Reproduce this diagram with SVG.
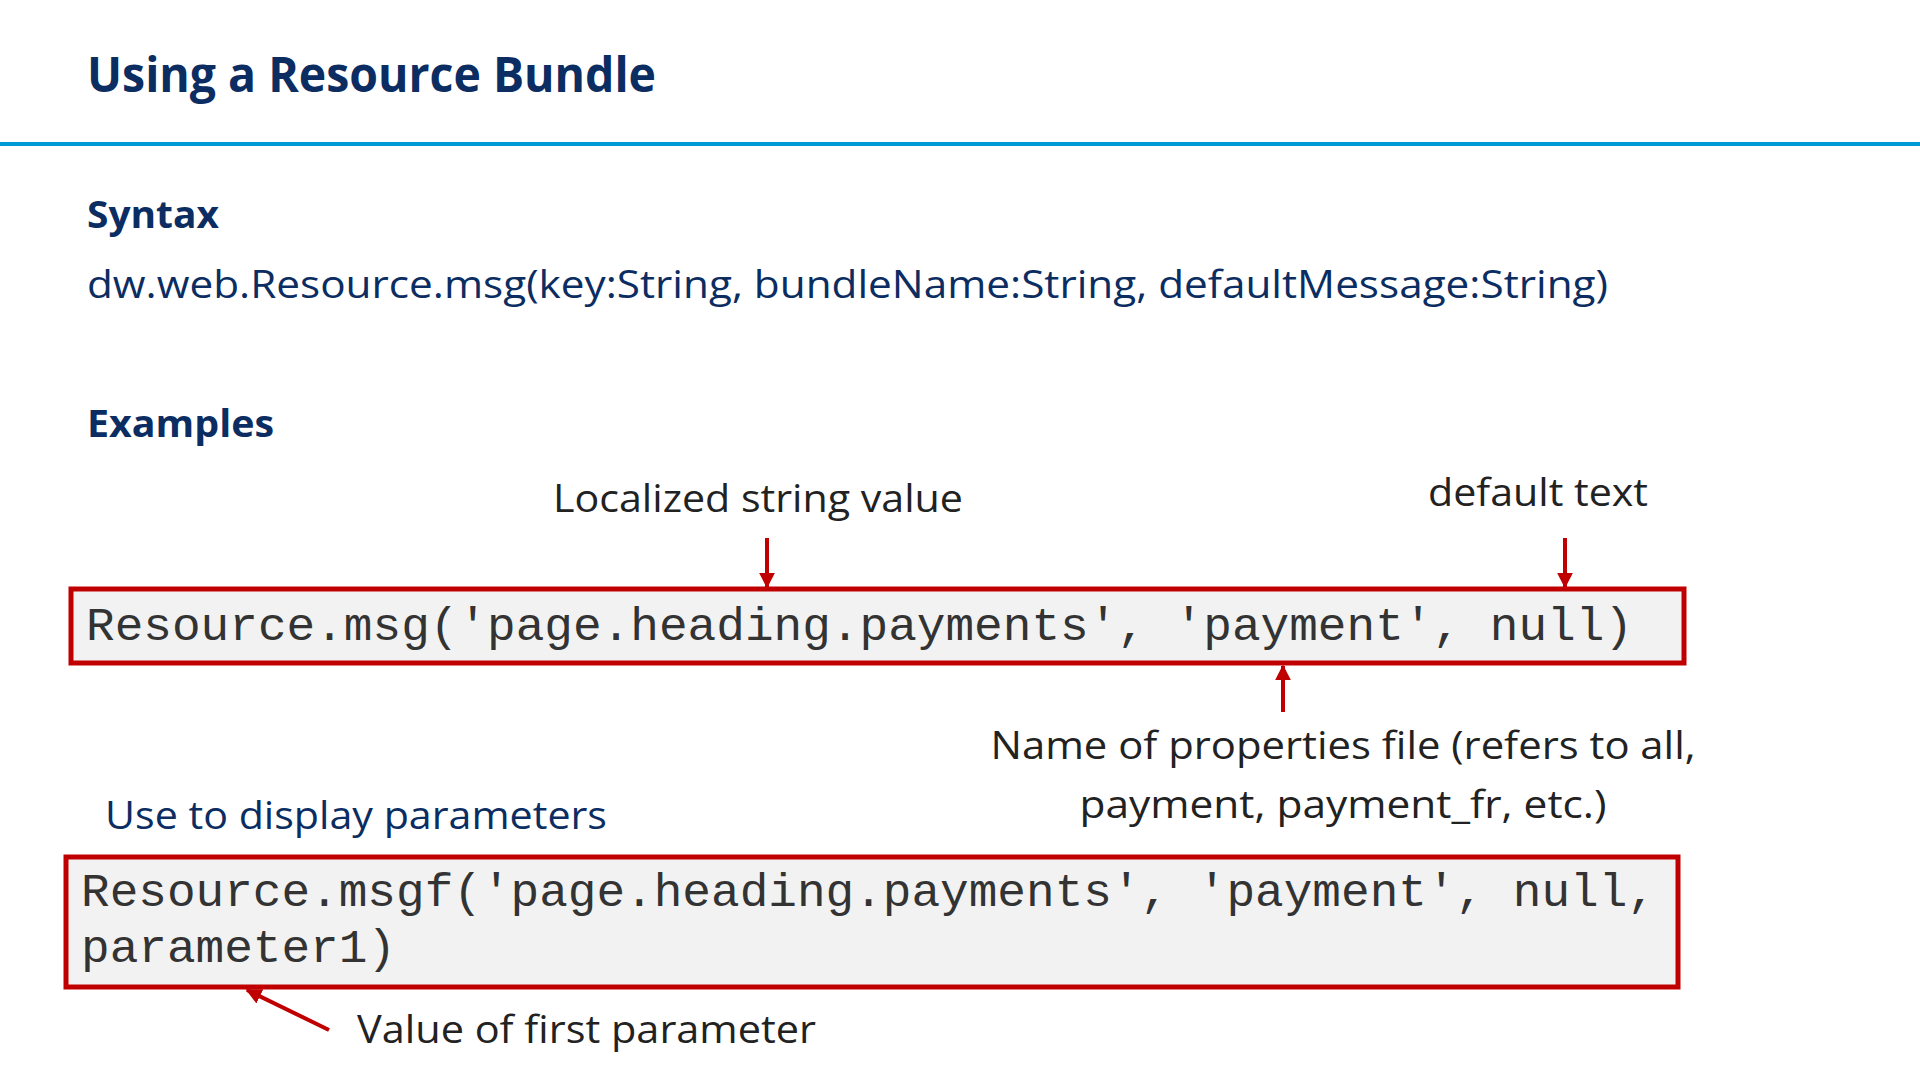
<svg xmlns="http://www.w3.org/2000/svg" width="1920" height="1080" viewBox="0 0 1920 1080">
<defs>
<style>
.t{font-family:"Open Sans","Liberation Sans",sans-serif;}
.h{font-weight:bold;fill:#0b2d62;}
.b{fill:#0b2d62;}
.k{fill:#222;}
.c{font-family:"Liberation Mono","Courier New",monospace;font-size:47px;fill:#333;}
.box{fill:#f2f2f2;stroke:#c00000;stroke-width:5;}
.ar{stroke:#c00000;stroke-width:4;fill:none;marker-end:url(#m);}
</style>
<marker id="m" viewBox="0 0 10 10" refX="9" refY="5" markerWidth="4" markerHeight="4" orient="auto"><path d="M0,0 L10,5 L0,10 z" fill="#c00000"/></marker>
</defs>
<rect width="1920" height="1080" fill="#fff"/>
<text id="title" class="t h" x="87" y="92" font-size="48" textLength="569" lengthAdjust="spacingAndGlyphs">Using a Resource Bundle</text>
<line x1="0" y1="144" x2="1920" y2="144" stroke="#0099d8" stroke-width="4"/>
<text class="t h" x="87" y="228" font-size="38" textLength="132" lengthAdjust="spacingAndGlyphs">Syntax</text>
<text class="t b" x="87" y="298" font-size="38" textLength="1521" lengthAdjust="spacingAndGlyphs">dw.web.Resource.msg(key:String, bundleName:String, defaultMessage:String)</text>
<text class="t h" x="87" y="437" font-size="38" textLength="187" lengthAdjust="spacingAndGlyphs">Examples</text>
<g id="lbl1"><text class="t k" x="553" y="512" font-size="38" textLength="410" lengthAdjust="spacingAndGlyphs">Localized string value</text></g>
<g id="lbl2"><text class="t k" x="1428" y="506" font-size="38" textLength="220" lengthAdjust="spacingAndGlyphs">default text</text></g>
<g id="box1">
<rect class="box" x="71" y="589" width="1613" height="74"/>
<text class="c" x="86" y="640" textLength="1547" lengthAdjust="spacingAndGlyphs">Resource.msg('page.heading.payments', 'payment', null)</text>
</g>
<g id="lbl3">
<text class="t k" x="1343" y="759" font-size="38" text-anchor="middle" textLength="705" lengthAdjust="spacingAndGlyphs">Name of properties file (refers to all,</text>
<text class="t k" x="1343" y="818" font-size="38" text-anchor="middle" textLength="527" lengthAdjust="spacingAndGlyphs">payment, payment_fr, etc.)</text>
</g>
<g id="lbl4"><text class="t b" x="105" y="829" font-size="38" textLength="502" lengthAdjust="spacingAndGlyphs">Use to display parameters</text></g>
<g id="box2">
<rect class="box" x="66" y="857" width="1612" height="130"/>
<text class="c" x="81" y="906" textLength="1575" lengthAdjust="spacingAndGlyphs">Resource.msgf('page.heading.payments', 'payment', null,</text>
<text class="c" x="81" y="962" textLength="315" lengthAdjust="spacingAndGlyphs">parameter1)</text>
</g>
<g id="lbl5"><text class="t k" x="357" y="1043" font-size="38" textLength="459" lengthAdjust="spacingAndGlyphs">Value of first parameter</text></g>
<g id="connectors">
<line class="ar" x1="767" y1="538" x2="767" y2="587"/>
<line class="ar" x1="1565" y1="538" x2="1565" y2="587"/>
<line class="ar" x1="1283" y1="712" x2="1283" y2="666"/>
<line class="ar" x1="329" y1="1030" x2="247" y2="990"/>
</g>
</svg>
